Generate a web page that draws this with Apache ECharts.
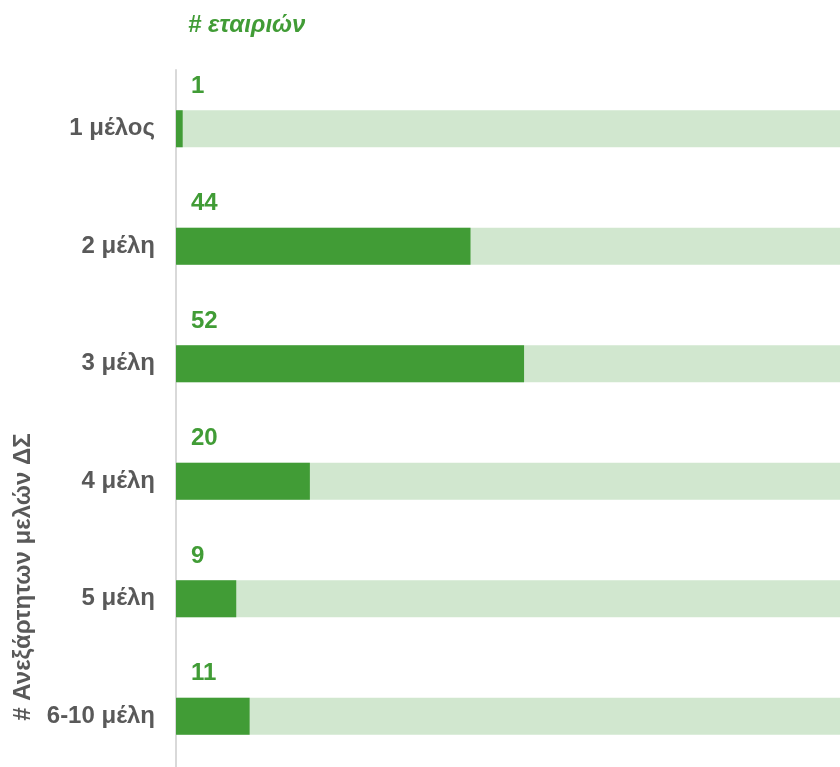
<!DOCTYPE html>
<html>
<head>
<meta charset="utf-8">
<script src="https://cdn.jsdelivr.net/npm/echarts@6/dist/echarts.min.js"></script>
<style>html,body{margin:0;padding:0;background:#fff}#c{width:840px;height:767px}</style>
</head>
<body>
<div id="c"></div>
<script>
const categories = ['1 μέλος', '2 μέλη', '3 μέλη', '4 μέλη', '5 μέλη', '6-10 μέλη'];
const values = [1, 44, 52, 20, 9, 11];
const titleText = '# εταιριών';
const yName = '# Ανεξάρτητων μελών ΔΣ';

const green = '#419c36';
const FF = 'Liberation Sans, Arial, sans-serif';
const chart = echarts.init(document.getElementById('c'));
chart.setOption({
  animation: false,
  textStyle: { fontFamily: FF },
  title: {
    text: titleText, left: 183, top: 8,
    textStyle: { fontSize: 24, fontStyle: 'italic', fontWeight: 'bold', color: green, fontFamily: FF }
  },
  grid: { left: 176, right: 0, top: 70, height: 705, containLabel: false, outerBoundsMode: 'none' },
  xAxis: { type: 'value', min: 0, max: 99.2, show: false },
  yAxis: {
    type: 'category', data: categories, inverse: true,
    axisLine: { show: true, lineStyle: { color: '#d9d9d9', width: 2 } },
    axisTick: { show: false },
    axisLabel: { margin: 21, fontSize: 24, fontWeight: 'bold', color: '#595959' }
  },
  graphic: [{
    type: 'text', x: 23, y: 577, rotation: Math.PI / 2,
    style: { text: yName, fontSize: 24, fontWeight: 'bold', fill: '#595959', align: 'center', verticalAlign: 'middle', fontFamily: FF }
  }],
  series: [{
    type: 'bar', data: values, barWidth: 37,
    itemStyle: { color: green },
    showBackground: true,
    backgroundStyle: { color: '#d1e7cf' },
    label: {
      show: true, position: [15, -24], verticalAlign: 'middle', align: 'left',
      fontSize: 24, fontWeight: 'bold', color: green
    }
  }]
});
</script>
</body>
</html>
